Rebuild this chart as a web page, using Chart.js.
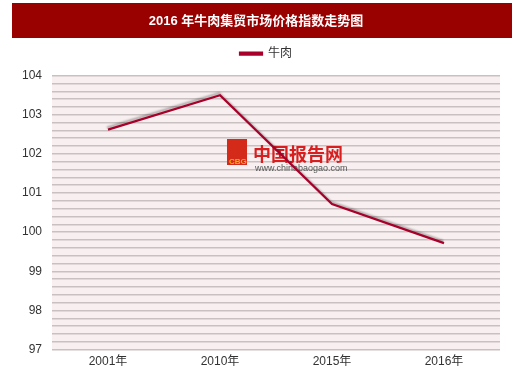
<!DOCTYPE html>
<html lang="zh">
<head>
  <meta charset="UTF-8">
  <title>2016 年牛肉集贸市场价格指数走势图</title>
  <script src="https://cdn.jsdelivr.net/npm/chart.js"></script>
  <style>
    html, body { margin: 0; padding: 0; background: #fff; }
    #wrap { width: 520px; height: 374px; }
  </style>
</head>
<body>
  <div id="wrap"><canvas id="grafico" width="520" height="374"></canvas></div>

  <script>
    const titulo = '2016 年牛肉集贸市场价格指数走势图';
    const categorias = ['2001年', '2010年', '2015年', '2016年'];
    const serieNombre = '牛肉';
    const valores = [102.62, 103.5, 100.72, 99.72];
    const yMin = 97, yMax = 104;

    const fuente = "Arial, 'Liberation Sans', 'Noto Sans CJK SC', sans-serif";

    // barra roja del titulo + fondo del area
    const fondo = {
      id: 'fondo',
      beforeInit(chart) {
        // un poco mas de espacio bajo la leyenda, y la leyenda algo a la derecha
        const leyenda = chart.legend;
        const fit = leyenda.fit;
        leyenda.fit = function () {
          fit.bind(this)();
          this.height += 6;
        };
        const dibujar = leyenda.draw;
        leyenda.draw = function () {
          const c = this.ctx;
          c.save();
          c.translate(10, 0);
          dibujar.apply(this, arguments);
          c.restore();
        };
      },
      beforeDraw(chart) {
        const ctx = chart.ctx, a = chart.chartArea;
        ctx.save();
        ctx.fillStyle = '#990000';
        ctx.fillRect(12, 3, 500, 35);
        ctx.fillStyle = '#f8f0f0';
        ctx.fillRect(a.left, a.top, a.right - a.left, a.bottom - a.top);
        ctx.restore();
      },
      beforeDatasetsDraw(chart) {
        // marca de agua
        const ctx = chart.ctx;
        ctx.save();
        ctx.fillStyle = '#d42a1a';
        ctx.fillRect(227, 139, 20, 26);
        ctx.fillStyle = '#f5b000';
        ctx.font = 'bold 8px ' + fuente;
        ctx.fillText('CBG', 229, 162);
        ctx.fillStyle = '#d81e1e';
        ctx.font = 'bold 18px ' + fuente;
        ctx.fillText('中国报告网', 253, 156);
        ctx.fillStyle = '#555';
        ctx.font = '9px ' + fuente;
        ctx.fillText('www.chinabaogao.com', 255, 169);
        ctx.restore();
      },
      beforeDatasetDraw(chart) {
        const ctx = chart.ctx;
        ctx.save();
        ctx.shadowColor = 'rgba(0,0,0,0.3)';
        ctx.shadowBlur = 2;
        ctx.shadowOffsetX = -1;
        ctx.shadowOffsetY = -2;
      },
      afterDatasetDraw(chart) {
        chart.ctx.restore();
      }
    };

    const ctx = document.getElementById('grafico').getContext('2d');
    new Chart(ctx, {
      type: 'line',
      data: {
        labels: categorias,
        datasets: [{
          label: serieNombre,
          data: valores,
          borderColor: '#a8002a',
          backgroundColor: '#a8002a',
          borderWidth: 2.2,
          pointRadius: 0,
          fill: false,
          tension: 0
        }]
      },
      options: {
        responsive: false,
        animation: false,
        layout: { padding: { left: 12, right: 20, bottom: 0, top: 0 } },
        scales: {
          x: {
            offset: true,
            grid: { display: false, drawTicks: false },
            border: { display: false },
            ticks: { color: '#333', font: { family: fuente, size: 12 }, padding: 5 }
          },
          y: {
            min: yMin,
            max: yMax,
            grid: { color: '#c9c1c1', lineWidth: 1.5, drawTicks: false },
            border: { display: false },
            ticks: {
              stepSize: 0.2,
              autoSkip: false,
              color: '#333',
              padding: 10,
              font: { family: fuente, size: 12 },
              callback: v => Math.abs(v - Math.round(v)) < 1e-6 ? Math.round(v) : ''
            }
          }
        },
        plugins: {
          title: {
            display: true,
            text: titulo,
            color: '#fff',
            font: { family: fuente, size: 13, weight: 'bold' },
            padding: { top: 14, bottom: 10 }
          },
          legend: {
            position: 'top',
            labels: {
              color: '#333',
              font: { family: fuente, size: 12 },
              boxWidth: 22,
              boxHeight: 2,
              padding: 8
            }
          },
          tooltip: { enabled: false }
        }
      },
      plugins: [fondo]
    });
  </script>
</body>
</html>
